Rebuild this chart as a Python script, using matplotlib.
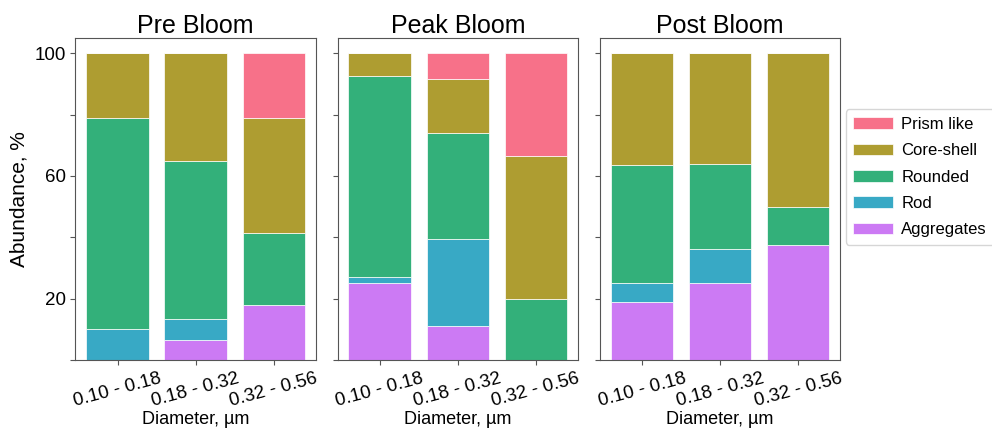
import numpy as np
import matplotlib
matplotlib.use("Agg")
import matplotlib.pyplot as plt
import seaborn as sns

plt.rcParams['font.family'] = ['Liberation Sans', 'DejaVu Sans']

sizes = ["0.10 - 0.18", "0.18 - 0.32", "0.32 - 0.56"]
periods = ["Pre Bloom", "Peak Bloom", "Post Bloom"]
shapes = ["Aggregates", "Rod", "Rounded", "Core-shell", "Prism like"]

# percent of each shape per size class, one list per period
pre_aggregates = [0, 6.5, 18]
pre_rod = [10, 7, 0]
pre_rounded = [69, 51.5, 23.5]
pre_coreshell = [21, 35, 37.5]
pre_prism = [0, 0, 21]

peak_aggregates = [25, 11, 0]
peak_rod = [2, 28.5, 0]
peak_rounded = [65.5, 34.5, 19.7]
peak_coreshell = [7.5, 17.5, 46.9]
peak_prism = [0, 8.5, 33.4]

post_aggregates = [19, 25, 37.5]
post_rod = [6, 11, 0]
post_rounded = [38.5, 28, 12.5]
post_coreshell = [36.5, 36, 50]
post_prism = [0, 0, 0]

data = {
    "Pre Bloom": [pre_aggregates, pre_rod, pre_rounded, pre_coreshell, pre_prism],
    "Peak Bloom": [peak_aggregates, peak_rod, peak_rounded, peak_coreshell, peak_prism],
    "Post Bloom": [post_aggregates, post_rod, post_rounded, post_coreshell, post_prism],
}

pal = sns.color_palette("husl", 5)
# legend order top-down: Prism, Core-shell, Rounded, Rod, Aggregates
colors = {"Prism like": pal[0], "Core-shell": pal[1], "Rounded": pal[2],
          "Rod": pal[3], "Aggregates": pal[4]}

fig, axes = plt.subplots(1, 3, figsize=(9.92, 4.3), dpi=100, sharey=True)
fig.subplots_adjust(left=0.076, right=0.847, top=0.912, bottom=0.163, wspace=0.09)

x = np.arange(len(sizes))
for ax, p in zip(axes, periods):
    bottom = np.zeros(len(sizes))
    for name, vals in zip(shapes, data[p]):
        vals = np.array(vals, dtype=float)
        ax.bar(x, vals, 0.8, bottom=bottom, color=colors[name], label=name,
               edgecolor='white', linewidth=0.5)
        bottom += vals
    ax.set_title(p, fontsize=18, pad=3)
    ax.set_xticks(x)
    ax.set_xticklabels(sizes, rotation=15, fontsize=13.5)
    ax.set_xlabel("Diameter, µm", fontsize=13, labelpad=1)
    ax.set_yticks([0, 20, 40, 60, 80, 100])
    ax.set_yticklabels(["", "20", "", "60", "", "100"], fontsize=13.5)
    ax.set_ylim(0, 105)
    for s in ax.spines.values():
        s.set_color('#555555')
    ax.tick_params(colors='#555555', labelcolor='black')

axes[0].set_ylabel("Abundance, %", fontsize=15)

h, l = axes[0].get_legend_handles_labels()
fig.legend(h[::-1], l[::-1], loc='center left', bbox_to_anchor=(0.849, 0.588),
           fontsize=12, handlelength=2.4, handletextpad=0.5, borderpad=0.45,
           labelspacing=0.68, borderaxespad=0.2, frameon=True)

fig.savefig("out.png", dpi=100)
